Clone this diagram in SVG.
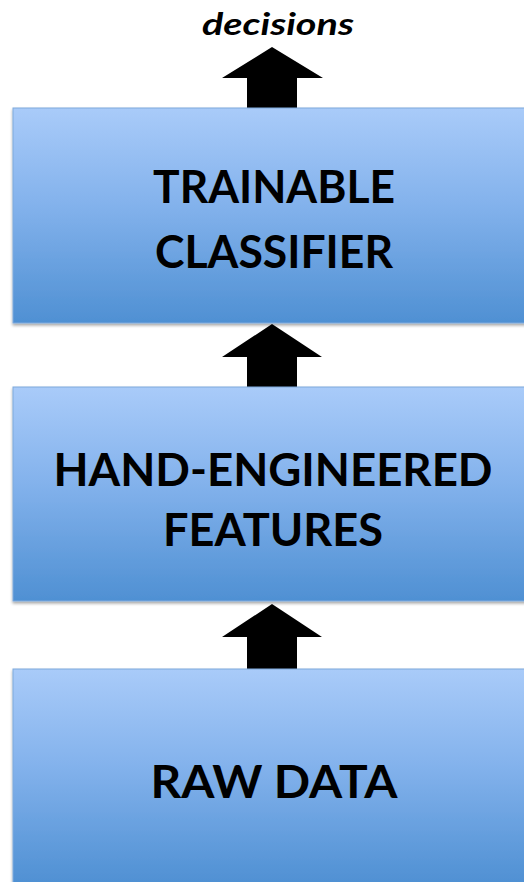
<svg xmlns="http://www.w3.org/2000/svg" width="524" height="882" viewBox="0 0 524 882">
<style>
.box{fill:url(#g);stroke:#7fa9dc;stroke-width:1;filter:url(#sh)}
.lbl{font-family:Lato,"Open Sans","Liberation Sans",sans-serif;font-weight:bold;font-size:45px;fill:#000;text-anchor:middle}
.arr{fill:#000}
</style>
<defs>
<linearGradient id="g" x1="0" y1="0" x2="0" y2="1">
<stop offset="0" stop-color="#a9cbf9"/>
<stop offset="0.45" stop-color="#83b2ec"/>
<stop offset="1" stop-color="#4f90d3"/>
</linearGradient>
<filter id="sh" x="-5%" y="-5%" width="110%" height="115%">
<feGaussianBlur in="SourceAlpha" stdDeviation="1.5"/>
<feOffset dx="0" dy="2" result="b"/>
<feComponentTransfer><feFuncA type="linear" slope="0.35"/></feComponentTransfer>
<feMerge><feMergeNode/><feMergeNode in="SourceGraphic"/></feMerge>
</filter>
</defs>
<rect width="524" height="882" fill="#fff"/>
<g id="connectors">
<polygon class="arr" points="272,47 323,78 297,78 297,109 247,109 247,78 222,78"/>
<polygon class="arr" points="272,324 322,357 297,357 297,388 247,388 247,357 222,357"/>
<polygon class="arr" points="272,604 322,637 297,637 297,670 247,670 247,637 222,637"/>
</g>
<g id="decisions">
<text x="278" y="35" font-family="Lato,'Open Sans','Liberation Sans',sans-serif" font-weight="bold" font-style="italic" font-size="30" text-anchor="middle" textLength="152" lengthAdjust="spacingAndGlyphs">decisions</text>
</g>
<g id="classifier">
<rect class="box" x="13" y="108" width="530" height="215"/>
<text class="lbl" x="274" y="203" textLength="242" lengthAdjust="spacingAndGlyphs">TRAINABLE</text>
<text class="lbl" x="274" y="268" textLength="238" lengthAdjust="spacingAndGlyphs">CLASSIFIER</text>
</g>
<g id="features">
<rect class="box" x="13" y="387" width="530" height="214"/>
<text class="lbl" x="273" y="486" textLength="439" lengthAdjust="spacingAndGlyphs">HAND-ENGINEERED</text>
<text class="lbl" x="273" y="546" textLength="220" lengthAdjust="spacingAndGlyphs">FEATURES</text>
</g>
<g id="rawdata">
<rect class="box" x="13" y="669" width="530" height="215"/>
<text class="lbl" x="274" y="798" textLength="247" lengthAdjust="spacingAndGlyphs">RAW DATA</text>
</g>
</svg>
